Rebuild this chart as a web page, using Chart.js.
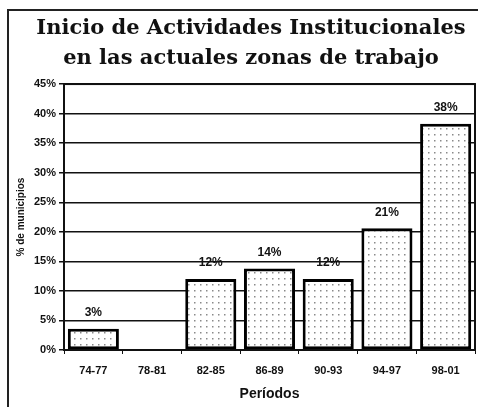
<!DOCTYPE html>
<html>
<head>
<meta charset="utf-8">
<script src="https://cdn.jsdelivr.net/npm/chart.js@4"></script>
<style>
  html, body { margin: 0; padding: 0; background: #fff; }
  #wrap { position: relative; width: 478px; height: 407px; overflow: hidden; }
  #frame { position: absolute; left: 7px; top: 9px; width: 500px; height: 420px;
           border-left: 2px solid #222; border-top: 2px solid #222; }
  canvas { position: absolute; left: 0; top: 0; }
</style>
</head>
<body>
<div id="wrap">
  <div id="frame"></div>
  <canvas id="chart" width="478" height="407"></canvas>
</div>
<script>
// datos
const periodos = ["74-77", "78-81", "82-85", "86-89", "90-93", "94-97", "98-01"];
const porcentajes = [3.6, 0, 12, 13.8, 12, 20.6, 38.3];
const etiquetas = ["3%", "", "12%", "14%", "12%", "21%", "38%"];
const tituloLineas = ["Inicio de Actividades Institucionales", "en las actuales zonas de trabajo"];

// trama punteada para el relleno de las barras
function dotPattern() {
    const c = document.createElement("canvas");
    c.width = 6; c.height = 6;
    const g = c.getContext("2d");
    g.fillStyle = "#fff";
    g.fillRect(0, 0, 6, 6);
    g.fillStyle = "#8a8a8a";
    g.fillRect(2, 2, 1.5, 1.5);
    const ctx = document.getElementById("chart").getContext("2d");
    return ctx.createPattern(c, "repeat");
}

const plotBox = {
    id: "plotBox",
    afterDraw(chart) {
        const { ctx, chartArea: a } = chart;
        ctx.save();
        ctx.strokeStyle = "#111";
        ctx.lineWidth = 2;
        ctx.strokeRect(a.left, a.top, a.right - a.left, a.bottom - a.top);
        ctx.restore();
    }
};

const barLabels = {
    id: "barLabels",
    afterDatasetsDraw(chart) {
        const { ctx } = chart;
        const meta = chart.getDatasetMeta(0);
        ctx.save();
        ctx.font = "bold 12px 'Liberation Sans Narrow', 'Liberation Sans', sans-serif";
        ctx.fillStyle = "#111";
        ctx.textAlign = "center";
        ctx.textBaseline = "bottom";
        meta.data.forEach((bar, i) => {
            if (!etiquetas[i]) return;
            ctx.fillText(etiquetas[i], bar.x, bar.y - 10);
        });
        ctx.restore();
    }
};

Chart.defaults.font.family = "'Liberation Sans Narrow', 'Liberation Sans', sans-serif";
Chart.defaults.color = "#111";

new Chart(document.getElementById("chart"), {
    type: "bar",
    data: {
        labels: periodos,
        datasets: [{
            data: porcentajes,
            backgroundColor: dotPattern(),
            borderColor: "#000",
            borderWidth: 3,
            borderSkipped: false,
            barPercentage: 0.87,
            categoryPercentage: 1
        }]
    },
    options: {
        responsive: false,
        animation: false,
        // padding izquierdo grande para centrar el titulo como en el marco original
        layout: { padding: { left: 27, right: 3, top: 0, bottom: 4 } },
        plugins: {
            legend: { display: false },
            tooltip: { enabled: false },
            title: {
                display: true,
                text: tituloLineas,
                color: "#111",
                font: { family: "'DejaVu Serif', serif", size: 21, weight: "bold", lineHeight: 1.43 },
                padding: { top: 14, bottom: 10 }
            }
        },
        scales: {
            y: {
                min: 0,
                max: 45,
                afterFit: s => { s.width = 37; },
                ticks: {
                    stepSize: 5,
                    callback: v => v + "%",
                    font: { size: 11, weight: "bold" },
                    padding: 3
                },
                grid: { color: "#111", lineWidth: 1.5, tickLength: 5, tickColor: "#111" },
                border: { display: false },
                title: {
                    display: true,
                    text: "% de municipios",
                    font: { size: 10, weight: "bold" },
                    padding: { top: -12, bottom: 0 }
                }
            },
            x: {
                ticks: { font: { size: 11, weight: "bold" }, padding: 10 },
                grid: { offset: true, drawOnChartArea: false, tickLength: 4, tickColor: "#111" },
                border: { display: false },
                title: {
                    display: true,
                    text: "Períodos",
                    font: { family: "'Liberation Sans', sans-serif", size: 14, weight: "bold" },
                    padding: { top: -1, bottom: 0 }
                }
            }
        }
    },
    plugins: [plotBox, barLabels]
});
</script>
</body>
</html>
